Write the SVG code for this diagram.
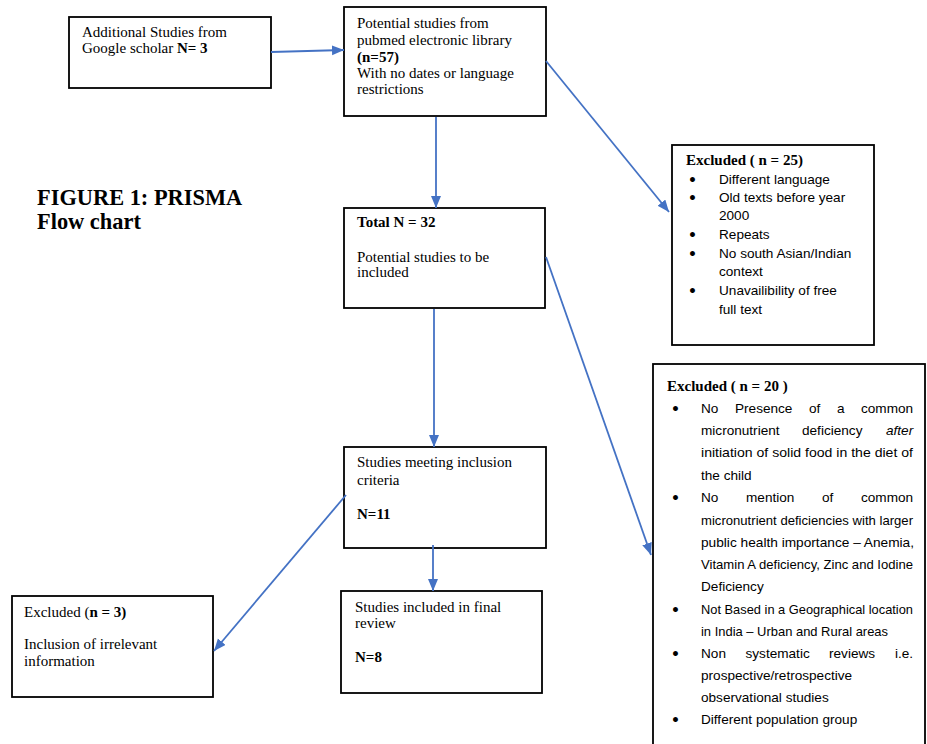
<svg xmlns="http://www.w3.org/2000/svg" width="927" height="744" viewBox="0 0 927 744">
<style>
.box{fill:#fff;stroke:#000;stroke-width:1.8}
.t{font-family:"Liberation Serif","Times New Roman",serif;font-size:15px;fill:#000}
.b{font-weight:bold}
.s{font-family:"Liberation Sans",Arial,sans-serif;font-size:13.6px;fill:#000}
.bul{font-family:"DejaVu Sans","Liberation Sans",sans-serif;font-size:14px;font-weight:bold;fill:#000}
.title{font-family:"Liberation Serif","Times New Roman",serif;font-size:22.4px;font-weight:bold;fill:#000}
.conn line{stroke:#4472C4;stroke-width:1.8;fill:none}
</style>
<defs>
<marker id="ah" markerUnits="userSpaceOnUse" markerWidth="13" markerHeight="11" refX="12" refY="5" orient="auto">
<path d="M0,0 L12,5 L0,10 Z" fill="#4472C4"/>
</marker>
</defs>
<rect width="927" height="744" fill="#fff"/>

<g id="title">
<text class="title" x="37" y="205">FIGURE 1: PRISMA</text>
<text class="title" x="37" y="229">Flow chart</text>
</g>

<g id="google">
<rect class="box" x="69" y="17" width="202" height="71"/>
<text class="t" x="82" y="37">Additional Studies from</text>
<text class="t" x="82" y="53">Google scholar <tspan class="b">N= 3</tspan></text>
</g>

<g id="pubmed">
<rect class="box" x="344" y="7" width="202" height="109"/>
<text class="t" x="357" y="28">Potential studies from</text>
<text class="t" x="357" y="45">pubmed electronic library</text>
<text class="t b" x="357" y="62">(n=57)</text>
<text class="t" x="357" y="78">With no dates or language</text>
<text class="t" x="357" y="94">restrictions</text>
</g>

<g id="total">
<rect class="box" x="344" y="208" width="201" height="100"/>
<text class="t b" x="357" y="227">Total N = 32</text>
<text class="t" x="357" y="262">Potential studies to be</text>
<text class="t" x="357" y="277">included</text>
</g>

<g id="meeting">
<rect class="box" x="344" y="447" width="202" height="101"/>
<text class="t" x="357" y="467">Studies meeting inclusion</text>
<text class="t" x="357" y="485">criteria</text>
<text class="t b" x="357" y="519">N=11</text>
</g>

<g id="final">
<rect class="box" x="341" y="591" width="201" height="102"/>
<text class="t" x="355" y="612">Studies included in final</text>
<text class="t" x="355" y="628">review</text>
<text class="t b" x="355" y="662">N=8</text>
</g>

<g id="excluded3">
<rect class="box" x="12" y="596" width="201" height="101"/>
<text class="t" x="24" y="617">Excluded (<tspan class="b">n = 3)</tspan></text>
<text class="t" x="24" y="649">Inclusion of irrelevant</text>
<text class="t" x="24" y="666">information</text>
</g>

<g id="excluded25">
<rect class="box" x="672" y="145" width="202" height="200"/>
<text class="t b" x="686" y="165">Excluded ( n = 25)</text>
<text class="bul" x="688" y="185">•</text><text class="s" x="719" y="184">Different language</text>
<text class="bul" x="688" y="203">•</text><text class="s" x="719" y="202">Old texts before year</text>
<text class="s" x="719" y="220">2000</text>
<text class="bul" x="688" y="240">•</text><text class="s" x="719" y="239">Repeats</text>
<text class="bul" x="688" y="259">•</text><text class="s" x="719" y="258">No south Asian/Indian</text>
<text class="s" x="719" y="276">context</text>
<text class="bul" x="688" y="296">•</text><text class="s" x="719" y="295">Unavailibility of free</text>
<text class="s" x="719" y="314">full text</text>
</g>

<g id="excluded20">
<rect class="box" x="653" y="364" width="272" height="400"/>
<text class="t b" x="667" y="391">Excluded ( n = 20 )</text>
<text class="bul" x="671" y="414">•</text>
<text class="s" y="413"><tspan x="701">No</tspan><tspan x="735">Presence</tspan><tspan x="809">of</tspan><tspan x="837">a</tspan><tspan x="861">common</tspan></text>
<text class="s" y="435"><tspan x="701">micronutrient</tspan><tspan x="802">deficiency</tspan><tspan x="886" font-style="italic">after</tspan></text>
<text class="s" x="701" y="457" textLength="212" lengthAdjust="spacingAndGlyphs">initiation of solid food in the diet of</text>
<text class="s" x="701" y="480">the child</text>
<text class="bul" x="671" y="503">•</text>
<text class="s" y="502"><tspan x="701">No</tspan><tspan x="746">mention</tspan><tspan x="822">of</tspan><tspan x="861">common</tspan></text>
<text class="s" x="701" y="525" textLength="212" lengthAdjust="spacingAndGlyphs">micronutrient deficiencies with larger</text>
<text class="s" x="701" y="547" textLength="213" lengthAdjust="spacingAndGlyphs">public health importance – Anemia,</text>
<text class="s" x="701" y="569" textLength="212" lengthAdjust="spacingAndGlyphs">Vitamin A deficiency, Zinc and Iodine</text>
<text class="s" x="701" y="591">Deficiency</text>
<text class="bul" x="671" y="615">•</text>
<text class="s" x="701" y="614" textLength="212" lengthAdjust="spacingAndGlyphs">Not Based in a Geographical location</text>
<text class="s" x="701" y="636" textLength="187" lengthAdjust="spacingAndGlyphs">in India – Urban and Rural areas</text>
<text class="bul" x="671" y="659">•</text>
<text class="s" y="658"><tspan x="701">Non</tspan><tspan x="745.5">systematic</tspan><tspan x="829">reviews</tspan><tspan x="895">i.e.</tspan></text>
<text class="s" x="701" y="680">prospective/retrospective</text>
<text class="s" x="701" y="702">observational studies</text>
<text class="bul" x="671" y="725">•</text>
<text class="s" x="701" y="724">Different population group</text>
</g>

<g id="connectors" class="conn">
<line x1="271" y1="52" x2="344" y2="50" marker-end="url(#ah)"/>
<line x1="436" y1="117" x2="436" y2="208" marker-end="url(#ah)"/>
<line x1="546" y1="61" x2="669" y2="212" marker-end="url(#ah)"/>
<line x1="434" y1="309" x2="434" y2="447" marker-end="url(#ah)"/>
<line x1="546" y1="257" x2="651" y2="555" marker-end="url(#ah)"/>
<line x1="346" y1="495" x2="214" y2="651" marker-end="url(#ah)"/>
<line x1="433" y1="545" x2="433" y2="591" marker-end="url(#ah)"/>
</g>
</svg>
